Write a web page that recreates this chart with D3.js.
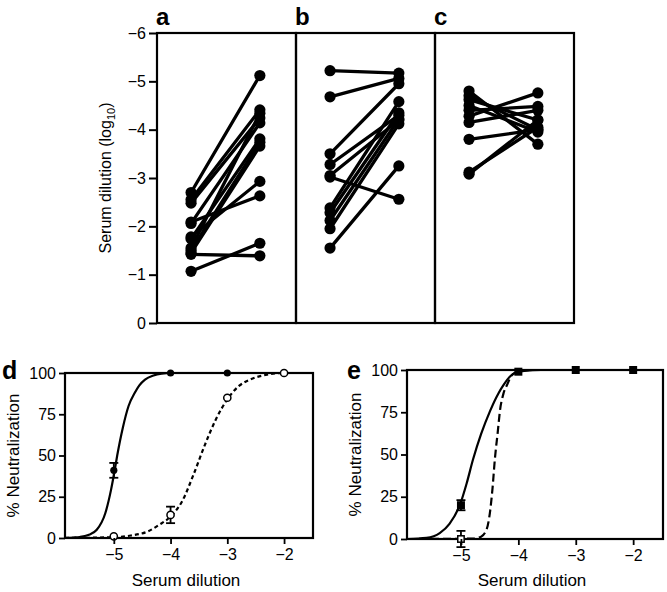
<!DOCTYPE html>
<html><head><meta charset="utf-8">
<script src="https://cdn.jsdelivr.net/npm/d3@7"></script>
<style>
body{margin:0;background:#fff;}
svg{display:block;font-family:"Liberation Sans",Arial,Helvetica,sans-serif;}
</style></head>
<body>
<svg id="chart" width="667" height="592"></svg>
<script>
// ---------- DATA ----------
const panels = ["a", "b", "c"];
const timepoints = ["pre", "post"];
const dilutionTicks = [0, -1, -2, -3, -4, -5, -6];
// log10 serum dilution, paired (pre -> post)
const aPre  = [-2.70, -2.55, -2.48, -2.06, -2.09, -1.78, -1.74, -1.55, -1.50, -1.45, -1.42, -1.07];
const aPost = [-5.12, -4.41, -4.24, -4.14, -2.63, -2.93, -3.81, -4.34, -3.74, -3.66, -1.39, -1.65];
const bPre  = [-5.22, -4.68, -3.50, -3.28, -3.05, -3.02, -2.38, -2.28, -2.12, -1.95, -1.55];
const bPost = [-5.17, -5.06, -4.95, -4.30, -4.20, -2.56, -4.58, -4.35, -4.22, -4.12, -3.25];
const cPre  = [-4.80, -4.70, -4.62, -4.50, -4.40, -4.28, -4.15, -3.80, -3.12, -3.08];
const cPost = [-3.70, -4.00, -4.20, -3.95, -4.48, -4.76, -4.40, -4.00, -4.05, -4.20];

const doseTicks = [-5, -4, -3, -2];
const pctTicks = [0, 25, 50, 75, 100];
// panel d: measured points
const dDose = [-5, -4, -3, -2];
const dSolidMean = [41, 100, 100, 100];
const dSolidErr  = [4.5, 0, 0, 0];
const dOpenMean  = [1, 14, 85, 100];
const dOpenErr   = [0, 5, 0, 0];
// panel d: fitted curves
const dSolidCurveX = [-5.86, -5.7, -5.6, -5.45, -5.3, -5.15, -5.05, -5.0, -4.94, -4.84, -4.74, -4.63, -4.55, -4.45, -4.3, -4.16, -4.0, -1.49];
const dSolidCurveY = [0.1, 0.3, 0.6, 1.8, 5, 15, 29, 38, 50, 67, 80, 88, 92.5, 96, 98.5, 99.6, 100, 100];
const dDashCurveX = [-5.86, -5.0, -4.7, -4.4, -4.2, -4.0, -3.8, -3.6, -3.4, -3.2, -3.0, -2.8, -2.6, -2.3, -2.0, -1.49];
const dDashCurveY = [0, 0.5, 1.5, 4, 8, 13, 22, 38, 56, 72, 84, 92, 96, 99, 100, 100];
// panel e: measured points
const eDose = [-5, -4, -3, -2];
const eSolidMean = [20, 99, 100, 100];
const eSolidErr  = [3, 0, 0, 0];
const eOpenMean  = [0, 99, 100, 100];
const eOpenErr   = [4.8, 0, 0, 0];
// panel e: fitted curves
const eSolidCurveX = [-5.94, -5.6, -5.37, -5.2, -5.02, -4.9, -4.79, -4.65, -4.49, -4.35, -4.26, -4.15, -4.05, -3.9, -3.6, -1.48];
const eSolidCurveY = [0, 0.7, 3.5, 9, 20, 33, 47, 62, 76, 86, 91, 96, 98.5, 99.5, 100, 100];
const eDashCurveX = [-5.94, -4.8, -4.65, -4.55, -4.49, -4.45, -4.41, -4.36, -4.32, -4.26, -4.2, -4.11, -4.0, -3.8, -1.48];
const eDashCurveY = [0, 0.2, 1.4, 6, 17, 30, 47, 63, 76, 86, 91, 97, 99, 100, 100];

// ---------- DRAW ----------
const svg = d3.select("#chart");
const minus = v => (v < 0 ? "\u2212" + Math.abs(v) : String(v));

// ---- top panels a, b, c ----
const yTop = d3.scaleLinear().domain([0, -6]).range([323, 33]);
const xPanel = d3.scaleBand().domain(panels).range([157, 574]).padding(0);
const bw = xPanel.bandwidth();
const xInner = d3.scalePoint().domain(timepoints).range([0.245 * bw, 0.74 * bw]);
const topData = {a: [aPre, aPost], b: [bPre, bPost], c: [cPre, cPost]};

panels.forEach(p => {
  const g = svg.append("g").attr("transform", `translate(${xPanel(p)},0)`);
  const [pre, post] = topData[p];
  const pairs = pre.map((v, i) => [v, post[i]]);
  g.selectAll("line.pair").data(pairs).join("line")
    .attr("x1", xInner("pre")).attr("x2", xInner("post"))
    .attr("y1", d => yTop(d[0])).attr("y2", d => yTop(d[1]))
    .attr("stroke", "#000").attr("stroke-width", 3.3).attr("stroke-linecap", "round");
  g.selectAll("circle.pre").data(pre).join("circle")
    .attr("cx", xInner("pre")).attr("cy", d => yTop(d)).attr("r", 5.6).attr("fill", "#000");
  g.selectAll("circle.post").data(post).join("circle")
    .attr("cx", xInner("post")).attr("cy", d => yTop(d)).attr("r", 5.6).attr("fill", "#000");
  g.append("rect").attr("x", 0).attr("y", yTop(-6)).attr("width", bw)
    .attr("height", yTop(0) - yTop(-6)).attr("fill", "none").attr("stroke", "#000").attr("stroke-width", 2.2);
  svg.append("text").attr("x", xPanel(p) - 1).attr("y", 25).text(p)
    .attr("font-size", 24).attr("font-weight", "bold");
});

const yAxisTop = svg.append("g").attr("transform", "translate(157,0)")
  .call(d3.axisLeft(yTop).tickValues(dilutionTicks).tickSize(8).tickPadding(3).tickFormat(minus));
yAxisTop.select(".domain").remove();
yAxisTop.selectAll("line").attr("stroke-width", 2);
yAxisTop.selectAll("text").attr("font-size", 16).attr("font-family", "Liberation Sans, Arial, sans-serif").attr("fill", "#000");

const yl = svg.append("text").attr("transform", "translate(111,178) rotate(-90)")
  .attr("text-anchor", "middle").attr("font-size", 16);
yl.append("tspan").text("Serum dilution (log");
yl.append("tspan").text("10").attr("font-size", 11).attr("dy", 4);
yl.append("tspan").text(")").attr("dy", -4);

// ---- bottom panels ----
function doseResponse(cfg) {
  const x = d3.scaleLinear().domain(cfg.xdom).range(cfg.xr);
  const y = d3.scaleLinear().domain([0, 100]).range(cfg.yr);
  const g = svg.append("g");
  const clipId = "clip" + cfg.label;
  svg.append("clipPath").attr("id", clipId).append("rect")
    .attr("x", cfg.xr[0]).attr("y", cfg.yr[1] - 2).attr("width", cfg.xr[1] - cfg.xr[0]).attr("height", cfg.yr[0] - cfg.yr[1] + 4);
  const line = d3.line().x(d => x(d[0])).y(d => y(d[1])).curve(d3.curveMonotoneX);
  const cg = g.append("g").attr("clip-path", `url(#${clipId})`);
  cg.append("path").datum(d3.zip(cfg.dashX, cfg.dashY)).attr("d", line)
    .attr("fill", "none").attr("stroke", "#000").attr("stroke-width", 2.2).attr("stroke-dasharray", cfg.dash);
  cg.append("path").datum(d3.zip(cfg.solidX, cfg.solidY)).attr("d", line)
    .attr("fill", "none").attr("stroke", "#000").attr("stroke-width", 2.2);

  // box
  g.append("rect").attr("x", cfg.xr[0]).attr("y", cfg.yr[1]).attr("width", cfg.xr[1] - cfg.xr[0])
    .attr("height", cfg.yr[0] - cfg.yr[1]).attr("fill", "none").attr("stroke", "#000").attr("stroke-width", 2.2);

  // error bars + markers
  function errbars(mean, err, cls) {
    const eb = g.selectAll("g." + cls).data(cfg.dose.map((d, i) => [d, mean[i], err[i]]).filter(d => d[2] > 0)).join("g");
    eb.append("line").attr("x1", d => x(d[0])).attr("x2", d => x(d[0]))
      .attr("y1", d => y(d[1] - d[2])).attr("y2", d => y(d[1] + d[2])).attr("stroke", "#000").attr("stroke-width", 1.8);
    [-1, 1].forEach(s => eb.append("line").attr("x1", d => x(d[0]) - 4.5).attr("x2", d => x(d[0]) + 4.5)
      .attr("y1", d => y(d[1] + s * d[2])).attr("y2", d => y(d[1] + s * d[2])).attr("stroke", "#000").attr("stroke-width", 1.8));
  }
  errbars(cfg.openMean, cfg.openErr, "eo");
  errbars(cfg.solidMean, cfg.solidErr, "es");
  const pts = (mean) => cfg.dose.map((d, i) => [d, mean[i]]);
  if (cfg.marker === "circle") {
    g.selectAll("circle.o").data(pts(cfg.openMean)).join("circle").attr("cx", d => x(d[0])).attr("cy", d => y(d[1]))
      .attr("r", 3.6).attr("fill", "#fff").attr("stroke", "#000").attr("stroke-width", 1.5);
    g.selectAll("circle.s").data(pts(cfg.solidMean).slice(0, 3)).join("circle").attr("cx", d => x(d[0])).attr("cy", d => y(d[1]))
      .attr("r", 3.6).attr("fill", "#000");
  } else {
    g.selectAll("rect.o").data(pts(cfg.openMean).slice(0, 1)).join("rect").attr("x", d => x(d[0]) - 3.2).attr("y", d => y(d[1]) - 3.2)
      .attr("width", 6.4).attr("height", 6.4).attr("fill", "#fff").attr("stroke", "#000").attr("stroke-width", 1.5);
    g.selectAll("rect.s").data(pts(cfg.solidMean)).join("rect").attr("x", d => x(d[0]) - 4).attr("y", d => y(d[1]) - 4)
      .attr("width", 8).attr("height", 8).attr("fill", "#000");
  }

  // axes
  const ax = g.append("g").attr("transform", `translate(0,${cfg.yr[0]})`)
    .call(d3.axisBottom(x).tickValues(doseTicks).tickSize(6).tickPadding(5).tickFormat(minus));
  const ay = g.append("g").attr("transform", `translate(${cfg.xr[0]},0)`)
    .call(d3.axisLeft(y).tickValues(pctTicks).tickSize(6).tickPadding(3));
  [ax, ay].forEach(a => {
    a.select(".domain").remove();
    a.selectAll("line").attr("stroke-width", 1.8);
    a.selectAll("text").attr("font-size", 16).attr("font-family", "Liberation Sans, Arial, sans-serif").attr("fill", "#000");
  });
  g.append("text").attr("x", (cfg.xr[0] + cfg.xr[1]) / 2 - 3).attr("y", 586).attr("text-anchor", "middle")
    .attr("font-size", 17).text("Serum dilution");
  g.append("text").attr("transform", `translate(${cfg.ylx},${(cfg.yr[0] + cfg.yr[1]) / 2}) rotate(-90)`)
    .attr("text-anchor", "middle").attr("font-size", 17).text("% Neutralization");
  g.append("text").attr("x", cfg.lx).attr("y", 379).attr("font-size", 25).attr("font-weight", "bold").text(cfg.label);
}

doseResponse({label: "d", xdom: [-5.86, -1.49], xr: [65, 313], yr: [538, 373], marker: "circle",
  dose: dDose, solidMean: dSolidMean, solidErr: dSolidErr, openMean: dOpenMean, openErr: dOpenErr,
  solidX: dSolidCurveX, solidY: dSolidCurveY, dashX: dDashCurveX, dashY: dDashCurveY, dash: "4,3",
  ylx: 19, lx: 2});
doseResponse({label: "e", xdom: [-5.94, -1.48], xr: [407, 663], yr: [539, 370], marker: "square",
  dose: eDose, solidMean: eSolidMean, solidErr: eSolidErr, openMean: eOpenMean, openErr: eOpenErr,
  solidX: eSolidCurveX, solidY: eSolidCurveY, dashX: eDashCurveX, dashY: eDashCurveY, dash: "8,4",
  ylx: 361, lx: 347});
</script>
</body></html>
